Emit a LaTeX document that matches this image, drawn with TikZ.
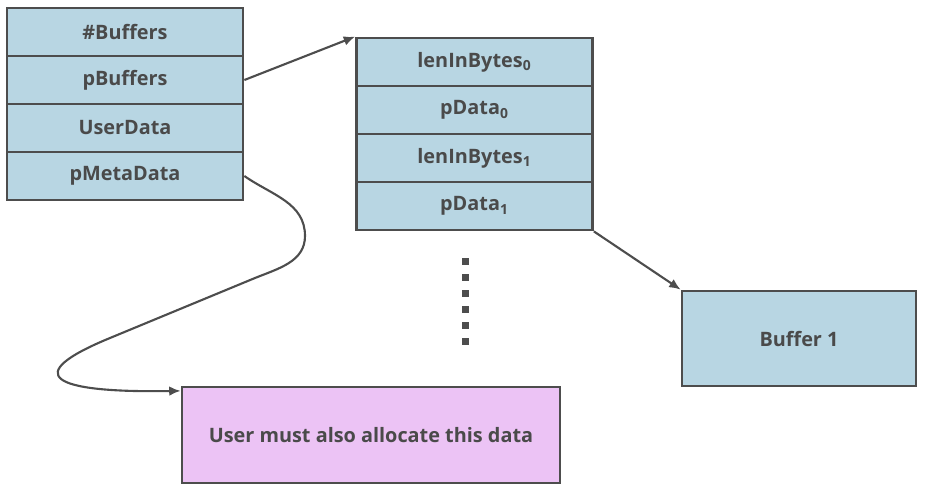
\documentclass[tikz,border=0pt]{standalone}
\usepackage{fontspec}
\setmainfont{Open Sans}
\usepackage{xcolor}
\usetikzlibrary{arrows.meta}
\definecolor{cellblue}{HTML}{B8D6E3}
\definecolor{userpink}{HTML}{ECC3F5}
\definecolor{edgegray}{HTML}{4D4D4D}
\definecolor{textgray}{HTML}{4A4A4A}
\tikzset{>={Latex[length=6.5pt,width=5.5pt]}}
\tikzset{cell/.style = {shape=rectangle,draw=edgegray,fill=cellblue,line width=1.6pt,
    minimum width=4.72cm,minimum height=0.96cm,inner sep=0pt,
    text=textgray,font=\bfseries\fontsize{11.3}{13}\selectfont}}
\tikzset{link/.style = {->,draw=edgegray,line width=1.2pt}}

\begin{document}
\begin{tikzpicture}[x=0.02cm,y=-0.02cm]
                    \useasboundingbox (0,0) rectangle (927,491);
                    \node[cell] (nbuf) at (125,32) {\#Buffers};
                    \node[cell] (pbuf) at (125,80) {pBuffers};
                    \node[cell] (udata) at (125,128) {UserData};
                    \node[cell] (meta) at (125,176) {pMetaData};

                    \node[cell] (len0) at (474.5,62) {lenInBytes\textsubscript{0}};
                    \node[cell] (dat0) at (474.5,110) {pData\textsubscript{0}};
                    \node[cell] (len1) at (474.5,158) {lenInBytes\textsubscript{1}};
                    \node[cell] (dat1) at (474.5,206) {pData\textsubscript{1}};

                    \node[cell,minimum width=4.68cm,minimum height=1.9cm] (buf1) at (799,338.5) {Buffer 1};
                    \node[cell,fill=userpink,minimum width=7.56cm,minimum height=1.92cm] (user) at (371,435) {User must also allocate this data};

                    % more buffers
                    \foreach \i in {0,...,5}
                        \fill[edgegray] (461.5,258+16*\i) rectangle ++(7,7);

                    \draw[link] (pbuf.east) -- (len0.north west);
                    \draw[link] (dat1.south east) -- (buf1.north west);
                    \draw[link] (meta.east) to[out=-35,in=90] (305,236) to[out=-90,in=22] (255,278)
                        -- (110,338) .. controls (20,375) and (50,393) .. ([yshift=-3pt]user.north west);
                \end{tikzpicture}
\end{document}
